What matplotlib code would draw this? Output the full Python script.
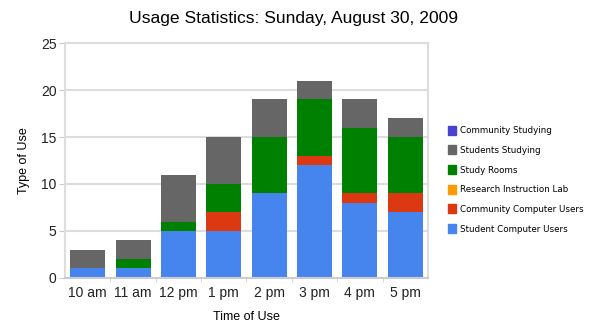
import numpy as np
import matplotlib.pyplot as plt
from matplotlib.patches import Patch

times = ['10 am', '11 am', '12 pm', '1 pm', '2 pm', '3 pm', '4 pm', '5 pm']
student_computer = [1, 1, 5, 5, 9, 12, 8, 7]
community_computer = [0, 0, 0, 2, 0, 1, 1, 2]
research_lab = [0, 0, 0, 0, 0, 0, 0, 0]
study_rooms = [0, 1, 1, 3, 6, 6, 7, 6]
students_studying = [2, 2, 5, 5, 4, 2, 3, 2]
community_studying = [0, 0, 0, 0, 0, 0, 0, 0]

series = [
    ('Student Computer Users', student_computer, '#4684ee'),
    ('Community Computer Users', community_computer, '#dc3912'),
    ('Research Instruction Lab', research_lab, '#ff9900'),
    ('Study Rooms', study_rooms, '#008000'),
    ('Students Studying', students_studying, '#666666'),
    ('Community Studying', community_studying, '#4942cc'),
]

fig = plt.figure(figsize=(5.91, 3.32), dpi=100)
ax = fig.add_axes([0.110, 0.163, 0.614, 0.707])

x = np.arange(len(times))
bottom = np.zeros(len(times))
for name, vals, col in series:
    vals = np.array(vals, dtype=float)
    ax.bar(x, vals, 0.77, bottom=bottom, color=col, zorder=2)
    bottom += vals

ax.set_xlim(-0.5, len(times) - 0.5)
ax.set_ylim(0, 25)
ax.set_yticks([0, 5, 10, 15, 20, 25])
ax.set_xticks(x)
ax.set_xticklabels(times)
ax.set_xticks(np.arange(0.5, len(times) - 1, 1), minor=True)
ax.tick_params(axis='x', which='major', length=0, pad=6)
ax.tick_params(axis='x', which='minor', length=3, color='#cccccc')
ax.tick_params(axis='y', length=4, color='#cccccc', pad=2)
for lbl in ax.get_xticklabels() + ax.get_yticklabels():
    lbl.set_family('Liberation Sans')
    lbl.set_fontsize(10)
    lbl.set_color('#222222')
ax.grid(axis='y', color='#dddddd', linewidth=1.5, zorder=0)
for s in ax.spines.values():
    s.set_color('#dddddd')
    s.set_linewidth(1.5)
ax.spines['bottom'].set_color('#cccccc')

ax.set_xlabel('Time of Use', family='Liberation Sans', fontsize=9, labelpad=8)
ax.set_ylabel('Type of Use', family='Liberation Sans', fontsize=9, labelpad=8)
fig.suptitle('Usage Statistics: Sunday, August 30, 2009', family='Liberation Sans',
             fontsize=12.6, x=0.497, y=0.968)

handles = [Patch(color=col, label=name) for name, vals, col in reversed(series)]
fig.legend(handles=handles, loc='upper left', bbox_to_anchor=(0.745, 0.645),
           frameon=False, prop={'family': 'DejaVu Sans', 'size': 6.3},
           handlelength=0.9, handleheight=1.2, handletextpad=0.4, labelspacing=1.17)

fig.savefig('out.png', dpi=100)
